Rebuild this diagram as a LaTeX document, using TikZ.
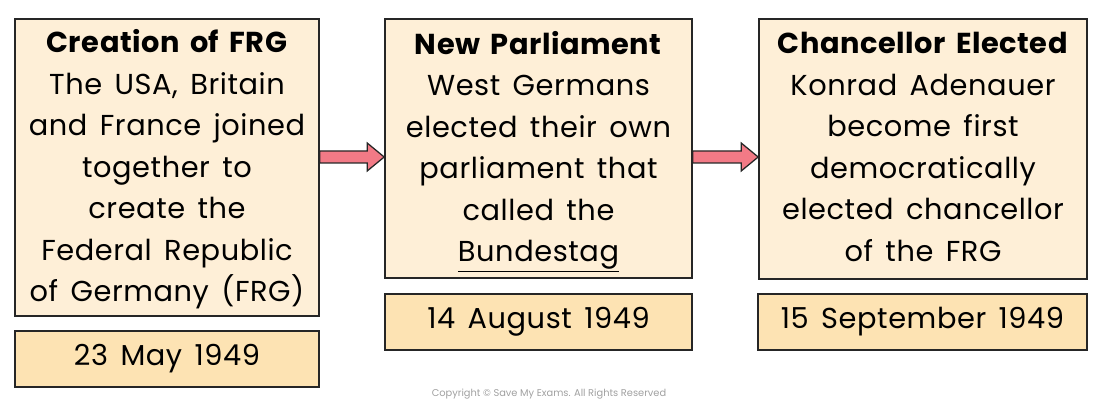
\documentclass[tikz,border=0pt]{standalone}
\usepackage{fontspec}
\setmainfont{Poppins}
\newfontfamily\sketchfont{Poppins}[LetterSpace=2, WordSpace=1.5]
\usepackage{tikz}
\usetikzlibrary{calc}

\definecolor{eventfill}{HTML}{FEEFD7}
\definecolor{datefill}{HTML}{FDE3B3}
\definecolor{arrowpink}{HTML}{F27A86}
\definecolor{copygray}{HTML}{A0A0A0}

% fat arrow between two boxes, at the height of a named row
\newcommand{\linkarrow}[3]{
  \coordinate (la) at (#1.east |- #3);
  \coordinate (lb) at (#2.west |- #3);
  \draw[linkstyle] ($(la)+(0,-6)$) -- ($(lb)+(-17,-6)$) -- ($(lb)+(-17,-14)$)
    -- (lb) -- ($(lb)+(-17,14)$) -- ($(lb)+(-17,6)$) -- ($(la)+(0,6)$) -- cycle;
}

\begin{document}
\begin{tikzpicture}[x=0.025cm, y=-0.025cm,
    eventbox/.style={draw=black!85, fill=eventfill, line width=1.1pt,
      align=center, inner sep=0pt, text depth=0.1cm,
      font=\sketchfont\fontsize{20.5}{29.5}\selectfont},
    datebox/.style={draw=black!85, fill=datefill, line width=1.1pt,
      align=center, inner sep=0pt, minimum height=1.4cm,
      font=\sketchfont\fontsize{20.5}{24}\selectfont},
    linkstyle/.style={fill=arrowpink, draw=black!85, line width=0.9pt}]
  \useasboundingbox (0,0) rectangle (1100,406);

  \node[eventbox, minimum width=7.6cm, minimum height=7.425cm] (crea) at (167,167.5)
    {\textbf{Creation of FRG}\\The USA, Britain\\and France joined\\together to\\
     create the\\Federal Republic\\of Germany (FRG)};
  \node[datebox, minimum width=7.6cm] (creadate) at (167,359) {23 May 1949};

  \node[eventbox, minimum width=7.675cm, minimum height=6.475cm] (parl) at (538.5,148.5)
    {\textbf{New Parliament}\\West Germans\\elected their own\\parliament that\\
     called the\\\underline{Bundestag}};
  \node[datebox, minimum width=7.675cm] (parldate) at (538.5,322) {14 August 1949};

  \node[eventbox, minimum width=8.2cm, minimum height=6.5cm] (chan) at (923,149)
    {\textbf{Chancellor Elected}\\Konrad Adenauer\\become first\\democratically\\
     elected chancellor\\of the FRG};
  \node[datebox, minimum width=8.225cm] (chandate) at (922.5,322) {15 September 1949};

  \coordinate (arrowrow) at (0,157);
  \linkarrow{crea}{parl}{arrowrow}
  \linkarrow{parl}{chan}{arrowrow}

  \node[text=copygray, font=\fontsize{7}{8}\selectfont] (copy) at (549,394)
    {Copyright © Save My Exams. All Rights Reserved};
\end{tikzpicture}
\end{document}
